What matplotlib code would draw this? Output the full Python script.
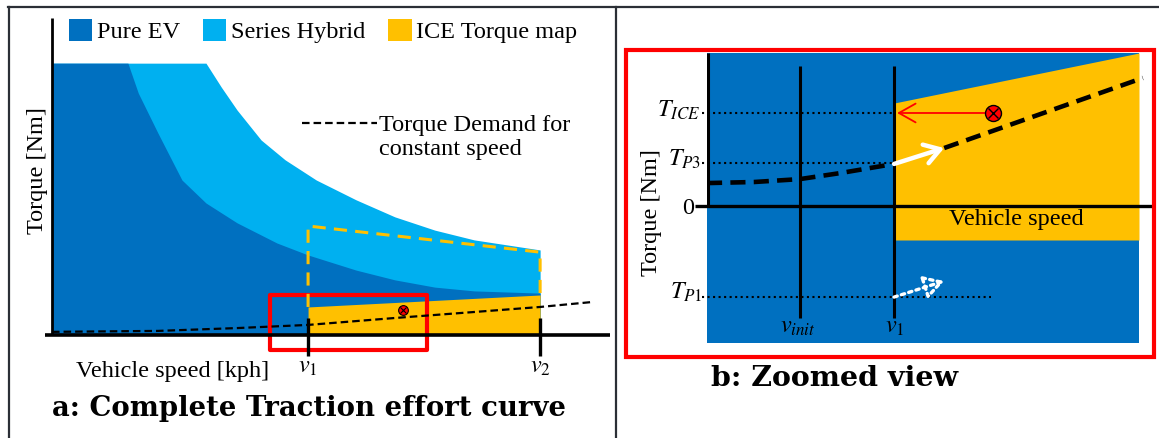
import matplotlib.pyplot as plt
import matplotlib.transforms as mtransforms
from matplotlib.lines import Line2D
from matplotlib.patches import Patch, Rectangle

plt.rcParams['font.family'] = ['Liberation Serif', 'DejaVu Serif']
plt.rcParams['mathtext.fontset'] = 'stix'

W, H = 1159, 438
EV, HYB, ICE = '#0070C0', '#00B0F0', '#FFC000'
FS = 17.5

# ---- panel a: complete traction effort curve (speed / torque in % of axis)
ev_speed = [0, 13.9, 15.8, 19.4, 23.8, 28.2, 33.9, 41.2, 46.9, 55.7, 62.8, 70.1, 77.3, 89.4]
ev_torque = [86.3, 86.3, 76.8, 64.1, 49.2, 41.9, 35.6, 29.2, 25.4, 20.6, 17.5, 15.2, 14.0, 13.3]
hyb_speed = [0, 13.9, 28.2, 31.0, 33.9, 38.3, 42.7, 48.4, 55.7, 62.8, 70.1, 77.3, 89.4]
hyb_torque = [86.3, 86.3, 86.3, 78.7, 71.4, 61.9, 55.6, 49.2, 42.9, 37.5, 33.3, 30.2, 27.0]
v1, v2 = 46.9, 89.4
ice_speed = [v1, v2]
ice_solid = [8.9, 12.7]
ice_dashed = [34.6, 26.3]
demand_speed = [0, 19.4, 33.9, 46.9, 62.8, 77.3, 89.4, 99.1]
demand_torque = [1.0, 1.3, 2.2, 3.2, 5.4, 7.3, 8.9, 10.5]
op_a = (64.3, 7.9)
zoom_x = [39.9, 68.7]
zoom_y = [-4.8, 12.7]

# ---- panel b: zoomed view
b_vinit, b_v1 = 21.5, 43.3
b_ice_speed = [b_v1, 100]
b_ice_top = [67.3, 100]
b_ice_bottom = -22.2
T_ICE, T_P3, T_P1 = 60.8, 28.1, -59.5
b_dem_speed = [0, 10.9, 21.5, 31.0, 43.3]
b_dem_torque = [15.0, 15.7, 17.6, 21.6, 27.5]
b_p3_end = (54.9, 37.9)
b_dem2_speed = [54.9, 100.9]
b_dem2_torque = [37.9, 83.7]
b_op = (66.2, 60.8)
b_p1_end = (54.9, -49.0)

fig = plt.figure(figsize=(W / 100, H / 100), dpi=100)
# pixel coords measured from top-left
PX = mtransforms.Affine2D().scale(1 / W, -1 / H).translate(0, 1) + fig.transFigure

# frame lines
for xs, ys in [([8, W], [7, 7]), ([9, 9], [7, H]), ([616, 616], [7, H])]:
    fig.add_artist(Line2D(xs, ys, transform=PX, color='#2b2f36', lw=1.6))

# ================= panel a
axa = fig.add_axes([52 / W, 1 - 335 / H, 546 / W, 315 / H])
axa.axis('off')
axa.set_xlim(0, 100)
axa.set_ylim(0, 100)

axa.fill_between(hyb_speed, hyb_torque, color=HYB, lw=0)
axa.fill_between(ev_speed, ev_torque, color=EV, lw=0)
axa.fill_between(ice_speed, ice_solid, color=ICE, lw=0)
axa.plot([v1, v1, v2, v2], [ice_solid[0], ice_dashed[0], ice_dashed[1], ice_solid[1]],
         color=ICE, lw=2.2, ls=(0, (4.3, 2.7)))
axa.plot(demand_speed, demand_torque, color='black', lw=1.6, ls=(0, (3.4, 1.8)),
         clip_on=False)

axa.plot([-1.3, 102.2], [0, 0], color='black', lw=2.6, clip_on=False, solid_capstyle='butt')
axa.plot([0, 0], [0, 100.5], color='black', lw=2.0, clip_on=False, solid_capstyle='butt')
for v, lab in [(v1, r'$v_1$'), (v2, r'$v_2$')]:
    axa.plot([v, v], [5.4, -6.7], color='black', lw=2.4, clip_on=False, solid_capstyle='butt')
    axa.text(v, -10.3, lab, ha='center', va='center', fontsize=FS)

axa.add_patch(Rectangle((zoom_x[0], zoom_y[0]), zoom_x[1] - zoom_x[0], zoom_y[1] - zoom_y[0],
                        fill=False, ec='red', lw=3, joinstyle='round', clip_on=False))
axa.plot(*op_a, 'o', ms=7, mfc='red', mec='black', mew=0.8)
axa.plot(*op_a, 'x', ms=4, mec='black', mew=0.8)

# demand legend sample + text
axa.plot([45.8, 59.5], [67.3, 67.3], color='black', lw=1.6, ls=(0, (3.4, 1.8)))
fig.text(379, 137.5, 'Torque Demand for\nconstant speed', transform=PX,
         ha='left', va='center', fontsize=FS, linespacing=1.2)

fig.legend(handles=[Patch(fc=EV, label='Pure EV'), Patch(fc=HYB, label='Series Hybrid'),
                    Patch(fc=ICE, label='ICE Torque map')],
           loc='center left', bbox_to_anchor=(69 / W, 1 - 31 / H), ncol=3, frameon=False,
           handlelength=0.95, handleheight=1.0, handletextpad=0.2, columnspacing=0.95,
           borderpad=0, borderaxespad=0, fontsize=FS)

fig.text(37, 171, 'Torque [Nm]', transform=PX, rotation=90, ha='center', va='center', fontsize=FS)
fig.text(173, 372, 'Vehicle speed [kph]', transform=PX, ha='center', va='center', fontsize=FS)
fig.text(309, 409, 'a: Complete Traction effort curve', transform=PX, ha='center', va='center',
         fontsize=19.8, fontweight='bold', family='DejaVu Serif')

# ================= panel b
axb = fig.add_axes([707 / W, 1 - 343 / H, 432 / W, 290 / H])
axb.axis('off')
axb.set_xlim(0, 100)
axb.set_ylim(-89.5, 100)

axb.fill_between([0, 100], -89.5, 100, color=EV, lw=0)
axb.fill_between(b_ice_speed, b_ice_top, b_ice_bottom, color=ICE, lw=0)

axb.plot([0.2, 0.2], [0, 100], color='black', lw=2.2, solid_capstyle='butt')
axb.plot([-2.8, 103.2], [0, 0], color='black', lw=2.4, clip_on=False, solid_capstyle='butt')
for v in [b_vinit, b_v1]:
    axb.plot([v, v], [91.5, -73.2], color='black', lw=2.2, solid_capstyle='butt')

for lvl, x_end in [(T_ICE, b_v1), (T_P3, b_v1), (T_P1, 65.7)]:
    axb.plot([-1.2, x_end], [lvl, lvl], color='black', lw=1.5, ls=':', clip_on=False)

axb.plot(b_dem_speed, b_dem_torque, color='black', lw=3.3, ls=(0, (3.3, 1.8)))
axb.plot(b_dem2_speed, b_dem2_torque, color='black', lw=3.3, ls=(0, (3.3, 1.8)), clip_on=False)

axb.annotate('', xy=b_p3_end, xytext=(b_v1, b_dem_torque[-1]),
             arrowprops=dict(arrowstyle='->,head_length=0.55,head_width=0.35', color='white',
                             lw=3.2, shrinkA=0, shrinkB=0, mutation_scale=20))
axb.annotate('', xy=b_p1_end, xytext=(b_v1, T_P1),
             arrowprops=dict(arrowstyle='-|>,head_length=0.6,head_width=0.35', ec='white',
                             fc='none', lw=2.4, ls=(0, (1, 1.3)), shrinkA=0, shrinkB=0,
                             mutation_scale=20))
axb.annotate('', xy=(b_v1 + 0.7, T_ICE), xytext=b_op,
             arrowprops=dict(arrowstyle='->,head_length=0.8,head_width=0.45', color='red',
                             lw=1.3, shrinkA=0, shrinkB=0, mutation_scale=15))
axb.plot(*b_op, 'o', ms=11.5, mfc='red', mec='black', mew=1.0, zorder=5)
axb.plot(*b_op, 'x', ms=7, mec='black', mew=1.0, zorder=6)

fig.text(700, 110, r'$T_{ICE}$', transform=PX, ha='right', va='center', fontsize=FS)
fig.text(701, 159, r'$T_{P3}$', transform=PX, ha='right', va='center', fontsize=FS)
fig.text(694, 208, '0', transform=PX, ha='right', va='center', fontsize=FS)
fig.text(703, 292, r'$T_{P1}$', transform=PX, ha='right', va='center', fontsize=FS)
fig.text(798, 327, r'$v_{init}$', transform=PX, ha='center', va='center', fontsize=FS)
fig.text(895, 327, r'$v_1$', transform=PX, ha='center', va='center', fontsize=FS)
fig.text(1016, 220, 'Vehicle speed', transform=PX, ha='center', va='center', fontsize=FS)
fig.text(652, 213, 'Torque [Nm]', transform=PX, rotation=90, ha='center', va='center', fontsize=FS)

fig.add_artist(Rectangle((626, 50), 528, 307, transform=PX, fill=False, ec='red', lw=3))
fig.text(835, 379, 'b: Zoomed view', transform=PX, ha='center', va='center',
         fontsize=20.5, fontweight='bold', family='DejaVu Serif')

fig.savefig('out.png', dpi=100)
